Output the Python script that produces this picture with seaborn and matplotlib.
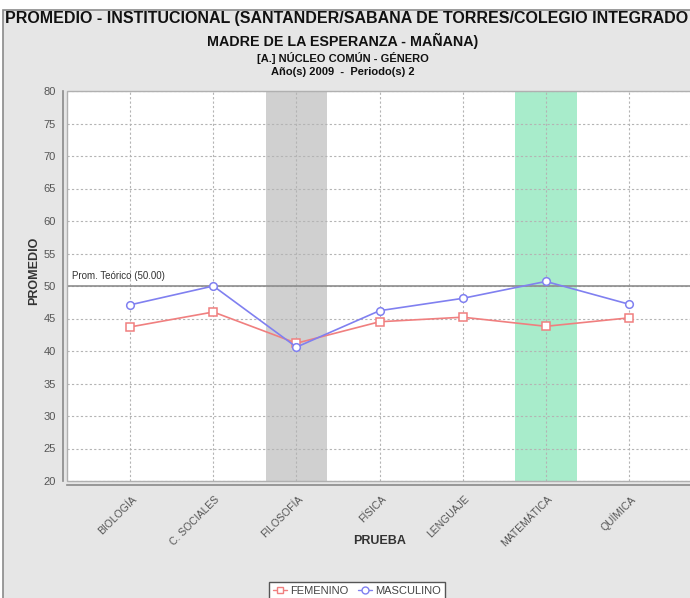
import numpy as np
import pandas as pd
import matplotlib
matplotlib.use("Agg")
import matplotlib.pyplot as plt
import matplotlib.transforms as mtransforms
from matplotlib.lines import Line2D
from matplotlib.patches import Rectangle
from matplotlib import font_manager
import seaborn as sns

# data
pruebas = ["BIOLOGÍA", "C. SOCIALES", "FILOSOFÍA", "FÍSICA", "LENGUAJE", "MATEMÁTICA", "QUÍMICA"]
femenino = [43.7, 46.0, 41.2, 44.5, 45.2, 43.8, 45.1]
masculino = [47.1, 50.0, 40.6, 46.2, 48.1, 50.7, 47.2]
series = ["FEMENINO", "MASCULINO"]
colores = ["#f07f7f", "#8080f0"]
marcadores = ["s", "o"]
prom_teorico = 50.0
banda_gris = "FILOSOFÍA"
banda_verde = "MATEMÁTICA"

df = pd.DataFrame({
    "PRUEBA": pruebas * 2,
    "PROMEDIO": femenino + masculino,
    "GENERO": [series[0]] * len(pruebas) + [series[1]] * len(pruebas),
})

sns.set_style("white")
fams = {f.name for f in font_manager.fontManager.ttflist}
base = "Liberation Sans"
narrow = "Liberation Sans Narrow" if "Liberation Sans Narrow" in fams else base
plt.rcParams["font.family"] = [base, "DejaVu Sans"]

W, H = 690, 598
fig = plt.figure(figsize=(W / 100, H / 100), dpi=100, facecolor="white")

def fx(x):
    return x / W

def fy(y):
    return 1 - y / H

# chart background + frame
fig.add_artist(Rectangle((fx(3), fy(H + 20)), fx(W + 20), (H + 20 - 10) / H,
                         facecolor="#e6e6e6", edgecolor="#8a8a8a", lw=1.2,
                         transform=fig.transFigure, zorder=-5))

ax = fig.add_axes([fx(67), fy(481), (693 - 67) / W, (481 - 91) / H])
ax.set_facecolor("white")

sns.pointplot(data=df, x="PRUEBA", y="PROMEDIO", hue="GENERO", order=pruebas,
              hue_order=series, palette=colores, markers=marcadores,
              linestyles=["-", "-"], markersize=5.5, linewidth=1.2,
              markerfacecolor="white", markeredgewidth=1.1,
              legend=False, ax=ax, zorder=3)

xi = {p: i for i, p in enumerate(pruebas)}
ax.axvspan(xi[banda_gris] - 0.37, xi[banda_gris] + 0.37, color="#d0d0d0", lw=0, zorder=0.2)
ax.axvspan(xi[banda_verde] - 0.37, xi[banda_verde] + 0.37, color="#a8eccb", lw=0, zorder=0.2)

ax.axhline(prom_teorico, color="#8c8c8c", lw=1.2, zorder=1)
ax.text(-0.7, prom_teorico + 0.7, f"Prom. Teórico ({prom_teorico:.2f})",
        fontsize=7, color="#333333", ha="left", va="bottom")

ax.set_xlim(-0.76, len(pruebas) - 1 + 0.77)
ax.set_ylim(20, 80)
ax.set_yticks(np.arange(20, 81, 5))
ax.grid(True, color="#b4b4b4", ls=(0, (2, 2)), lw=0.8)
ax.set_axisbelow(True)

for s in ["top", "right"]:
    ax.spines[s].set_visible(False)
for s in ["left", "bottom"]:
    ax.spines[s].set_position(("outward", 3))
    ax.spines[s].set_color("#8a8a8a")
    ax.spines[s].set_linewidth(1.2)
ax.add_patch(Rectangle((0, 0), 1, 1, transform=ax.transAxes, fill=False,
                       edgecolor="#b0b0b0", lw=1.0, clip_on=False, zorder=4))

ax.tick_params(axis="y", length=3, width=0.8, color="#888888", labelsize=8,
               labelcolor="#555555", pad=2)
ax.tick_params(axis="x", length=0, labelsize=7.5, labelcolor="#555555", pad=9)
ax.set_xticks(range(len(pruebas)))
ax.set_xticklabels(pruebas, rotation=45, ha="right", rotation_mode="anchor", va="center")
shift = mtransforms.ScaledTranslation(5 / 100, 0, fig.dpi_scale_trans)
for lbl in ax.get_xticklabels():
    lbl.set_transform(lbl.get_transform() + shift)

ax.set_xlabel("PRUEBA", fontsize=9, fontweight="bold", color="#333333")
ax.xaxis.set_label_coords(0.5, (481 - 535) / 390)
ax.set_ylabel("PROMEDIO", fontsize=9, fontweight="bold", color="#333333")
ax.yaxis.set_label_coords((40 - 67) / 626, (481 - 271) / 390)

# titles
fig.text(fx(5), fy(18), "PROMEDIO - INSTITUCIONAL (SANTANDER/SABANA DE TORRES/COLEGIO INTEGRADO",
         fontsize=11.5, fontweight="bold", color="#111111", ha="left", va="center")
fig.text(fx(343), fy(41), "MADRE DE LA ESPERANZA - MAÑANA)",
         fontsize=10.3, fontweight="bold", color="#111111", ha="center", va="center")
fig.text(fx(343), fy(58), "[A.] NÚCLEO COMÚN - GÉNERO",
         fontsize=8, fontweight="bold", family=[narrow, "DejaVu Sans"],
         color="#111111", ha="center", va="center")
fig.text(fx(343), fy(72), "Año(s) 2009  -  Periodo(s) 2",
         fontsize=8, fontweight="bold", family=[narrow, "DejaVu Sans"],
         color="#111111", ha="center", va="center")

handles = [Line2D([], [], color=c, marker=m, markerfacecolor="white", markersize=5,
                  markeredgewidth=1.0, lw=1.0, label=s)
           for c, m, s in zip(colores, marcadores, series)]
leg = fig.legend(handles=handles, loc="center", bbox_to_anchor=(fx(357), fy(591)),
                 ncol=2, fontsize=8, frameon=True, fancybox=False, framealpha=1,
                 edgecolor="#555555", handlelength=1.3, handletextpad=0.3,
                 columnspacing=0.8, borderpad=0.35, labelcolor="#444444")
leg.get_frame().set_linewidth(1.0)

fig.savefig("out.png", dpi=100, facecolor=fig.get_facecolor())
